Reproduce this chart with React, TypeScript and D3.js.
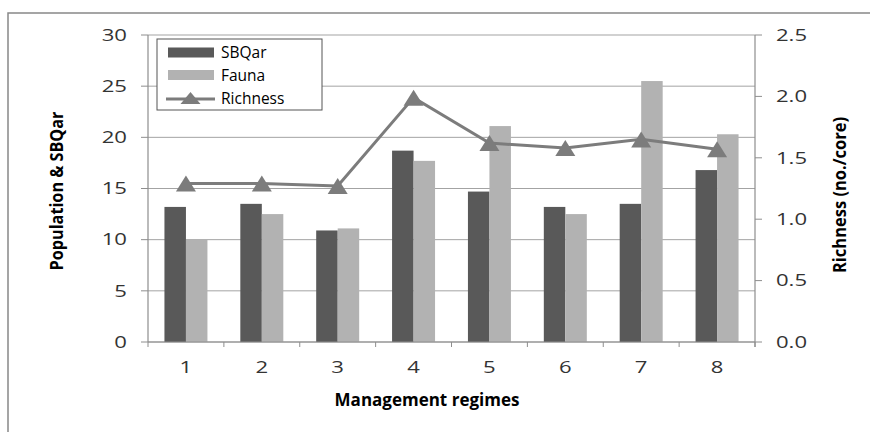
import React from "react";
import * as d3 from "d3";

const categories = ["1", "2", "3", "4", "5", "6", "7", "8"];
const sbqar = [13.2, 13.5, 10.9, 18.7, 14.7, 13.2, 13.5, 16.8];
const fauna = [10.0, 12.5, 11.1, 17.7, 21.1, 12.5, 25.5, 20.3];
const richness = [1.29, 1.29, 1.27, 1.99, 1.62, 1.58, 1.65, 1.57];
const leftTicks = [0, 5, 10, 15, 20, 25, 30];
const rightTicks = [0, 0.5, 1.0, 1.5, 2.0, 2.5];
const seriesNames = ["SBQar", "Fauna"];

const W = 870;
const H = 432;
const PL = 148;
const PR = 755;
const PT = 35;
const PB = 342;

const C_DARK = "#595959";
const C_LIGHT = "#b2b2b2";
const C_LINE = "#7c7c7c";
const C_GRID = "#a3a3a3";
const C_AXIS = "#8e8e8e";
const FONT = "'Open Sans', sans-serif";

function tri(cx: number, cy: number, hw: number, hh: number) {
  return `M${cx},${cy - hh}L${cx + hw},${cy + hh}L${cx - hw},${cy + hh}Z`;
}

export default function App() {
  const x = d3.scaleBand<string>().domain(categories).range([PL, PR]).paddingInner(0).paddingOuter(0);
  const xs = d3.scaleBand<string>().domain(seriesNames).range([0, x.bandwidth()]).paddingInner(0).paddingOuter(0.765);
  const yL = d3.scaleLinear().domain([0, 30]).range([PB, PT]);
  const yR = d3.scaleLinear().domain([0, 2.5]).range([PB, PT]);
  const line = d3
    .line<number>()
    .x((_, i) => (x(categories[i]) as number) + x.bandwidth() / 2)
    .y((d) => yR(d));

  const tickFont = 16;
  const sx = 1.38;
  const capOff = 5.7;

  const series = [
    { name: "SBQar", values: sbqar, color: C_DARK },
    { name: "Fauna", values: fauna, color: C_LIGHT },
  ];

  const boundaries = d3.range(categories.length + 1).map((i) => PL + i * x.step());

  return (
    <svg width={W} height={H} style={{ position: "absolute", left: 0, top: 0, background: "#fff" }}>
      <rect x={8} y={13} width={W} height={H} fill="#fff" stroke="#888" strokeWidth={1.5} />
      {/* gridlines */}
      {leftTicks.map((t) => (
        <line key={"g" + t} x1={PL} x2={PR} y1={yL(t)} y2={yL(t)} stroke={C_GRID} strokeWidth={1} />
      ))}
      {/* bars */}
      {series.map((s) =>
        s.values.map((v, i) => (
          <rect
            key={s.name + i}
            x={(x(categories[i]) as number) + (xs(s.name) as number)}
            y={yL(v)}
            width={xs.bandwidth()}
            height={yL(0) - yL(v)}
            fill={s.color}
          />
        ))
      )}
      {/* axes */}
      <line x1={PL} x2={PL} y1={PT} y2={PB} stroke={C_AXIS} strokeWidth={1.2} />
      <line x1={PR} x2={PR} y1={PT} y2={PB + 5} stroke={C_AXIS} strokeWidth={1.2} />
      <line x1={PL} x2={PR} y1={PB} y2={PB} stroke={C_AXIS} strokeWidth={1.2} />
      {leftTicks.map((t) => (
        <g key={"lt" + t}>
          <line x1={PL - 7} x2={PL} y1={yL(t)} y2={yL(t)} stroke={C_AXIS} />
          <text
            transform={`translate(${127},${yL(t) + capOff}) scale(${sx},1)`}
            textAnchor="end"
            fontFamily={FONT}
            fontSize={tickFont}
            fill="#333"
          >
            {t}
          </text>
        </g>
      ))}
      {rightTicks.map((t) => (
        <g key={"rt" + t}>
          <line x1={PR} x2={PR + 7} y1={yR(t)} y2={yR(t)} stroke={C_AXIS} />
          <text
            transform={`translate(${776},${yR(t) + capOff}) scale(${sx},1)`}
            textAnchor="start"
            fontFamily={FONT}
            fontSize={tickFont}
            fill="#333"
          >
            {t.toFixed(1)}
          </text>
        </g>
      ))}
      {boundaries.map((b, i) => (
        <line key={"xb" + i} x1={b} x2={b} y1={PB} y2={PB + 5} stroke={C_AXIS} />
      ))}
      {categories.map((c) => (
        <text
          key={"xl" + c}
          transform={`translate(${(x(c) as number) + x.bandwidth() / 2},${373}) scale(${sx},1)`}
          textAnchor="middle"
          fontFamily={FONT}
          fontSize={tickFont}
          fill="#333"
        >
          {c}
        </text>
      ))}
      {/* richness line */}
      <path d={line(richness) || ""} fill="none" stroke={C_LINE} strokeWidth={3} />
      {richness.map((r, i) => (
        <path key={"m" + i} d={tri((x(categories[i]) as number) + x.bandwidth() / 2, yR(r), 10, 8)} fill={C_LINE} />
      ))}
      {/* axis titles */}
      <text
        transform={`translate(${63},${191}) rotate(-90) scale(1,1.1)`}
        textAnchor="middle"
        fontFamily={FONT}
        fontWeight="bold"
        fontSize={16.2}
        fill="#000"
      >
        Population &amp; SBQar
      </text>
      <text
        transform={`translate(${846},${195}) rotate(-90) scale(1,1.1)`}
        textAnchor="middle"
        fontFamily={FONT}
        fontWeight="bold"
        fontSize={16.5}
        fill="#000"
      >
        Richness (no./core)
      </text>
      <text x={427} y={406} textAnchor="middle" fontFamily={FONT} fontWeight="bold" fontSize={17} fill="#000">
        Management regimes
      </text>
      {/* legend */}
      <rect x={157} y={39} width={165} height={71} fill="#fff" stroke="#555" strokeWidth={1} />
      <rect x={168} y={47.5} width={46} height={10} fill={C_DARK} />
      <rect x={168} y={70} width={46} height={10} fill={C_LIGHT} />
      <line x1={166} x2={215} y1={99} y2={99} stroke={C_LINE} strokeWidth={3} />
      <path d={tri(190.5, 98, 10, 6)} fill={C_LINE} />
      {["SBQar", "Fauna", "Richness"].map((t, i) => (
        <text key={"lg" + t} x={221} y={52.5 + i * 23 + 5.4} fontFamily={FONT} fontSize={15.5} fill="#000">
          {t}
        </text>
      ))}
    </svg>
  );
}
